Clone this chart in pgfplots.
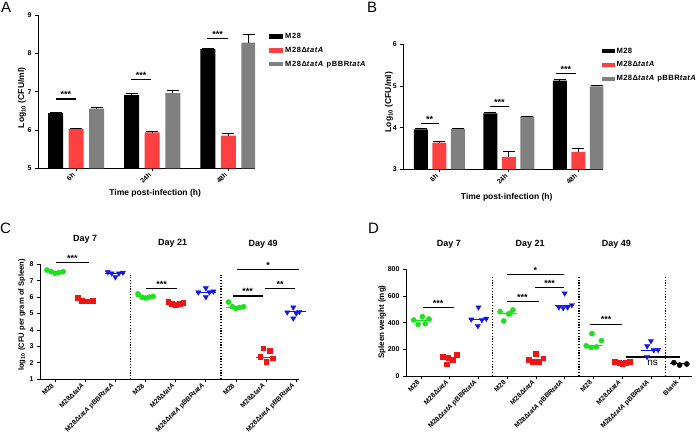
\documentclass[border=0pt]{standalone}
\usepackage{fontspec}
\setmainfont{Liberation Sans}
\newfontfamily\legfont[LetterSpace=8]{Liberation Sans}
\newfontfamily\legfontb[LetterSpace=6]{Liberation Sans}
\usepackage{pgfplots}
\pgfplotsset{compat=1.18}
\definecolor{barred}{RGB}{255,64,64}
\definecolor{bargray}{RGB}{128,128,128}
\definecolor{ptgreen}{RGB}{30,225,30}
\definecolor{ptred}{RGB}{240,20,20}
\definecolor{ptblue}{RGB}{20,20,240}
\tikzset{
 sig/.style={line width=1.2pt},
 dotv/.style={line width=1.3pt, dash pattern=on 1.2pt off 1.6pt},
}
\pgfplotsset{
 prism/.style={
  scale only axis,
  axis lines*=left,
  axis line style={-, line width=0.9pt},
  tick align=outside,
  major tick length=3pt,
  tick style={line width=0.8pt, black},
  /pgf/number format/assume math mode=true,
  ticklabel style={font=\fontsize{7}{8}\selectfont\bfseries},
  label style={font=\fontsize{8.5}{10}\selectfont\bfseries},
  minor tick num=0,
  xticklabel style={rotate=45, anchor=east, font=\fontsize{6.8}{8}\selectfont\bfseries},
 },
 eb/.style={error bars/y dir=plus, error bars/y explicit,
  error bars/error bar style={line width=0.9pt,black},
  error bars/error mark options={rotate=90, line width=0.9pt,black,mark size=6pt}},
 gpt/.style={only marks, mark=*, mark size=2.6pt, color=ptgreen},
 rpt/.style={only marks, mark=square*, mark size=2.4pt, color=ptred},
 bpt/.style={only marks, mark=triangle*, mark size=3pt, mark options={rotate=180}, color=ptblue},
 kpt/.style={only marks, mark=*, mark size=2.6pt, color=black},
 med/.style={no marks, line width=1pt},
}
\newcommand{\stars}[1]{{\fontsize{9}{9}\selectfont\bfseries #1}}
\newcommand{\Dt}{M28Δ\textit{tatA}}
\newcommand{\Dp}{M28Δ\textit{tatA} pBBR\textit{tatA}}
\begin{document}
\begin{tikzpicture}
\useasboundingbox (0,0) rectangle (696pt,438pt);
% ---------------- A
\begin{axis}[prism, at={(38pt,269.7pt)}, anchor=south west, width=217pt, height=153.3pt,
 xmin=0.5, xmax=3.35, ymin=5, ymax=9, ytick={5,6,7,8,9},
 xtick={1,2,3}, xticklabels={6h,24h,48h},
 xlabel={Time post-infection (h)}, ylabel={Log\textsubscript{10} (CFU/ml)},
 xlabel style={at={(axis description cs:0.54,-0.161)}, anchor=center},
 ylabel style={at={(axis description cs:-0.074,0.459)}, anchor=center, rotate=0},
 ybar, bar width=15pt, clip mode=individual,
 legend image code/.code={\fill[#1] (0pt,-2.2pt) rectangle (14pt,2.2pt);},
 legend style={at={(1.0645,0.895)}, anchor=north west, draw=none, fill=none, inner sep=0pt,
   font=\legfont\fontsize{7.5}{8}\selectfont\bfseries, row sep=3pt, legend cell align=left},
]
\addplot[fill=black, draw=none, bar shift=0pt, eb] coordinates {(0.73,6.44)+-(0,0.02) (1.73,6.91)+-(0,0.04) (2.73,8.11)+-(0,0.02)};
\addplot[fill=barred, draw=none, bar shift=0pt, eb] coordinates {(1,6.02)+-(0,0.03) (2,5.94)+-(0,0.02) (3,5.85)+-(0,0.06)};
\addplot[fill=bargray, draw=none, bar shift=0pt, eb] coordinates {(1.27,6.56)+-(0,0.02) (2.27,6.96)+-(0,0.07) (3.27,8.28)+-(0,0.22)};
\addlegendentry{M28}
\addlegendentry{\Dt}
\addlegendentry{\Dp}
\draw[sig] (axis cs:0.73,6.81) -- (axis cs:1.0,6.81);
\draw[sig] (axis cs:1.72,7.32) -- (axis cs:1.99,7.32);
\draw[sig] (axis cs:2.72,8.39) -- (axis cs:3.0,8.39);
\node[anchor=south, inner sep=1pt] at (axis cs:0.865,6.81) {\stars{***}};
\node[anchor=south, inner sep=1pt] at (axis cs:1.855,7.32) {\stars{***}};
\node[anchor=south, inner sep=1pt] at (axis cs:2.86,8.39) {\stars{***}};
\end{axis}
% ---------------- B
\begin{axis}[prism, at={(403.3pt,268.7pt)}, anchor=south west, width=200pt, height=125pt,
 xmin=0.482, xmax=3.36, ymin=3, ymax=6, ytick={3,4,5,6},
 xtick={1,2,3}, xticklabels={6h,24h,48h},
 xlabel={Time post-infection (h)}, ylabel={Log\textsubscript{10} (CFU/ml)},
 xlabel style={at={(axis description cs:0.517,-0.222)}, anchor=center},
 ylabel style={at={(axis description cs:-0.0715,0.538)}, anchor=center, rotate=0},
 ybar, bar width=14pt, clip mode=individual,
 legend image code/.code={\fill[#1] (0pt,-2.2pt) rectangle (13pt,2.2pt);},
 legend style={at={(0.99,0.99)}, anchor=north west, draw=none, fill=none, inner sep=0pt,
   font=\legfontb\fontsize{7.6}{8.5}\selectfont\bfseries, row sep=3pt, legend cell align=left},
]
\addplot[fill=black, draw=none, bar shift=0pt, eb] coordinates {(0.734,3.96)+-(0,0.02) (1.734,4.34)+-(0,0.03) (2.734,5.13)+-(0,0.03)};
\addplot[fill=barred, draw=none, bar shift=0pt, eb] coordinates {(1,3.64)+-(0,0.03) (2,3.30)+-(0,0.12) (3,3.42)+-(0,0.08)};
\addplot[fill=bargray, draw=none, bar shift=0pt, eb] coordinates {(1.266,3.97)+-(0,0.01) (2.266,4.25)+-(0,0.02) (3.266,4.99)+-(0,0.03)};
\addlegendentry{M28}
\addlegendentry{\Dt}
\addlegendentry{\Dp}
\draw[sig] (axis cs:0.73,4.09) -- (axis cs:0.99,4.09);
\draw[sig] (axis cs:1.73,4.50) -- (axis cs:2.0,4.50);
\draw[sig] (axis cs:2.68,5.29) -- (axis cs:2.96,5.29);
\node[anchor=south, inner sep=1pt] at (axis cs:0.86,4.09) {\stars{**}};
\node[anchor=south, inner sep=1pt] at (axis cs:1.865,4.50) {\stars{***}};
\node[anchor=south, inner sep=1pt] at (axis cs:2.82,5.29) {\stars{***}};
\end{axis}
% ---------------- C
\begin{axis}[prism, at={(40pt,58.7pt)}, anchor=south west, width=259pt, height=115pt,
 xmin=-0.5, xmax=8.09, ymin=1, ymax=8, ytick={1,2,...,8},
 xtick={0,...,8}, xticklabels={M28,\Dt,\Dp,M28,\Dt,\Dp,M28,\Dt,\Dp},
 ylabel={log\textsubscript{10} (CFU per gram of Spleen)},
 ylabel style={at={(axis description cs:-0.0695,0.559)}, anchor=center, rotate=0, font=\fontsize{7.6}{9}\selectfont\bfseries},
 clip=false,
]
\addplot[gpt] coordinates {(-0.27,7.65) (-0.13,7.55) (0,7.45) (0.13,7.5) (0.27,7.55)};
\addplot[med, ptgreen] coordinates {(-0.33,7.55) (0.33,7.55)};
\addplot[rpt] coordinates {(0.75,5.95) (0.88,5.8) (1,5.75) (1.12,5.75) (1.25,5.8)};
\addplot[med, ptred] coordinates {(0.67,5.78) (1.33,5.78)};
\addplot[bpt] coordinates {(1.75,7.52) (1.88,7.45) (2,7.22) (2.12,7.45) (2.25,7.5)};
\addplot[med, ptblue] coordinates {(1.67,7.45) (2.33,7.45)};
\addplot[gpt] coordinates {(2.75,6.2) (2.88,6.0) (3,5.95) (3.12,6.0) (3.25,6.05)};
\addplot[med, ptgreen] coordinates {(2.67,6.05) (3.33,6.05)};
\addplot[rpt] coordinates {(3.75,5.7) (3.88,5.6) (4,5.52) (4.12,5.6) (4.25,5.65)};
\addplot[med, ptred] coordinates {(3.67,5.62) (4.33,5.62)};
\addplot[bpt] coordinates {(5,6.55) (4.75,6.3) (5,6.0) (5.12,6.3) (5.25,6.35)};
\addplot[med, ptblue] coordinates {(4.67,6.3) (5.33,6.3)};
\addplot[gpt] coordinates {(5.75,5.7) (5.88,5.42) (6,5.32) (6.12,5.37) (6.25,5.42)};
\addplot[med, ptgreen] coordinates {(5.67,5.4) (6.33,5.4)};
\addplot[rpt] coordinates {(6.9,2.89) (7.12,2.74) (6.8,2.38) (7.23,2.28) (7,2.07)};
\addplot[med, ptred] coordinates {(6.67,2.34) (7.33,2.34)};
\addplot[bpt] coordinates {(7.9,5.38) (7.7,5.08) (8,5.02) (8.1,5.11) (7.9,4.71)};
\addplot[med, ptblue] coordinates {(7.67,5.1) (8.33,5.1)};
\draw[dotv] (axis cs:2.5,1) -- (axis cs:2.5,7.35);
\draw[dotv] (axis cs:5.5,1) -- (axis cs:5.5,7.35);
\draw[sig] (axis cs:0.03,8.1) -- (axis cs:1.12,8.1);
\draw[sig] (axis cs:3.03,6.54) -- (axis cs:4.03,6.54);
\draw[sig] (axis cs:5.9,6.07) -- (axis cs:6.88,6.07);
\draw[sig] (axis cs:6.97,6.52) -- (axis cs:7.95,6.52);
\draw[sig] (axis cs:6.05,7.69) -- (axis cs:8.09,7.69);
\node[anchor=south, inner sep=1pt] at (axis cs:0.57,8.1) {\stars{***}};
\node[anchor=south, inner sep=1pt] at (axis cs:3.53,6.54) {\stars{***}};
\node[anchor=south, inner sep=1pt] at (axis cs:6.39,6.07) {\stars{***}};
\node[anchor=south, inner sep=1pt] at (axis cs:7.46,6.52) {\stars{**}};
\node[anchor=south, inner sep=1pt] at (axis cs:7.07,7.69) {\stars{*}};
\node[font=\fontsize{9}{10}\selectfont\bfseries] at (axis cs:1.0,9.54) {Day 7};
\node[font=\fontsize{9}{10}\selectfont\bfseries] at (axis cs:3.9,9.3) {Day 21};
\node[font=\fontsize{9}{10}\selectfont\bfseries] at (axis cs:6.9,9.24) {Day 49};
\end{axis}
% ---------------- D
\begin{axis}[prism, at={(406pt,62pt)}, anchor=south west, width=286pt, height=106.7pt,
 xmin=-0.52, xmax=9.43, ymin=0, ymax=800, ytick={0,200,400,600,800},
 xtick={0,...,9}, xticklabels={M28,\Dt,\Dp,M28,\Dt,\Dp,M28,\Dt,\Dp,Blank},
 ylabel={Spleen weight (mg)},
 ylabel style={at={(axis description cs:-0.084,0.506)}, anchor=center, rotate=0, font=\fontsize{8}{9}\selectfont\bfseries},
 clip=false,
]
\addplot[gpt] coordinates {(-0.25,420) (-0.1,387) (0.05,445) (0.15,392) (0.28,427)};
\addplot[med, ptgreen] coordinates {(-0.33,415) (0.33,415)};
\addplot[rpt] coordinates {(0.75,145) (0.95,140) (1.25,157) (1.1,125) (0.9,88)};
\addplot[med, ptred] coordinates {(0.67,140) (1.33,140)};
\addplot[bpt] coordinates {(2,515) (1.75,425) (2.12,420) (2.27,430) (1.98,375)};
\addplot[med, ptblue] coordinates {(1.67,422) (2.33,422)};
\addplot[gpt] coordinates {(2.75,482) (3.05,465) (3.2,495) (2.88,412) (3.1,470)};
\addplot[med, ptgreen] coordinates {(2.67,470) (3.33,470)};
\addplot[rpt] coordinates {(3.98,170) (3.75,125) (3.9,108) (4.1,108) (4.25,133)};
\addplot[med, ptred] coordinates {(3.67,125) (4.33,125)};
\addplot[bpt] coordinates {(5,620) (4.8,515) (4.95,510) (5.1,515) (5.25,532)};
\addplot[med, ptblue] coordinates {(4.67,528) (5.33,528)};
\addplot[gpt] coordinates {(5.95,318) (6.28,265) (5.75,226) (5.92,214) (6.1,218)};
\addplot[med, ptgreen] coordinates {(5.67,226) (6.33,226)};
\addplot[rpt] coordinates {(6.75,110) (6.9,100) (7,90) (7.12,100) (7.25,105)};
\addplot[med, ptred] coordinates {(6.67,102) (7.33,102)};
\addplot[bpt] coordinates {(8,262) (7.87,224) (8.1,194) (8.25,196) (7.87,144)};
\addplot[med, ptblue] coordinates {(7.67,194) (8.33,194)};
\addplot[kpt] coordinates {(8.8,100) (9,82) (9.25,90)};
\addplot[med, black] coordinates {(8.67,90) (9.33,90)};
\draw[dotv] (axis cs:2.5,0) -- (axis cs:2.5,750);
\draw[dotv] (axis cs:5.5,0) -- (axis cs:5.5,750);
\draw[dotv] (axis cs:8.5,0) -- (axis cs:8.5,745);
\draw[sig] (axis cs:0.06,515) -- (axis cs:1.15,515);
\draw[sig] (axis cs:2.98,557) -- (axis cs:4.09,557);
\draw[sig] (axis cs:3.98,662) -- (axis cs:4.99,662);
\draw[sig] (axis cs:2.98,762) -- (axis cs:4.99,762);
\draw[sig] (axis cs:5.88,389) -- (axis cs:7.0,389);
\draw[sig] (axis cs:7.15,142) -- (axis cs:9.0,142);
\node[anchor=south, inner sep=1pt] at (axis cs:0.6,515) {\stars{***}};
\node[anchor=south, inner sep=1pt] at (axis cs:3.53,557) {\stars{***}};
\node[anchor=south, inner sep=1pt] at (axis cs:4.48,662) {\stars{***}};
\node[anchor=south, inner sep=1pt] at (axis cs:3.98,762) {\stars{*}};
\node[anchor=south, inner sep=1pt] at (axis cs:6.44,389) {\stars{***}};
\node[font=\fontsize{10}{10}\selectfont] at (axis cs:8.06,95) {ns};
\node[font=\fontsize{9}{10}\selectfont\bfseries] at (axis cs:0.97,987) {Day 7};
\node[font=\fontsize{9}{10}\selectfont\bfseries] at (axis cs:3.8,987) {Day 21};
\node[font=\fontsize{9}{10}\selectfont\bfseries] at (axis cs:6.8,987) {Day 49};
\end{axis}
% panel letters
\node[anchor=north west, inner sep=0pt, font=\fontsize{15}{15}\selectfont] at (1pt,436pt) {A};
\node[anchor=north west, inner sep=0pt, font=\fontsize{15}{15}\selectfont] at (367pt,436pt) {B};
\node[anchor=north west, inner sep=0pt, font=\fontsize{15}{15}\selectfont] at (0pt,215pt) {C};
\node[anchor=north west, inner sep=0pt, font=\fontsize{15}{15}\selectfont] at (368pt,215pt) {D};
\end{tikzpicture}
\end{document}
